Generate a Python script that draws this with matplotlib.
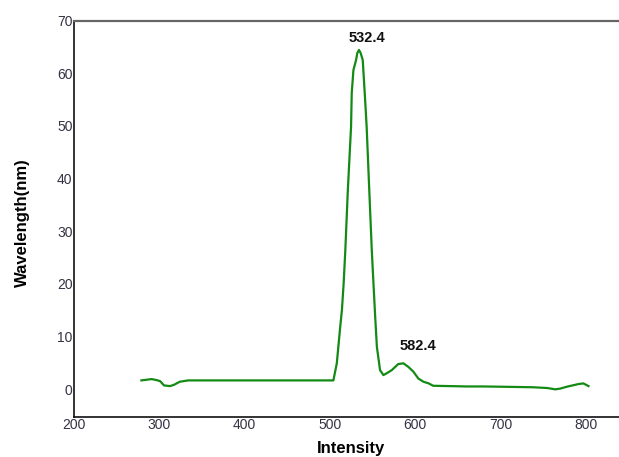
import numpy as np
import matplotlib
matplotlib.use("Agg")
import matplotlib.pyplot as plt

plt.rcParams['font.family'] = ['Liberation Sans', 'DejaVu Sans']

# spectrum
x_vals = [279, 291, 297, 301, 305.5, 312.5, 317, 324, 334, 400, 480, 504,
          508, 512, 514, 516, 518, 521, 524.7, 525.5, 527.5, 530.6, 532, 534,
          536, 538.4, 541, 543, 546, 549, 551, 553, 555, 558.7, 562.6, 566.5,
          572.4, 580, 586, 592, 597.8, 603.6, 609.5, 615.4, 621, 640, 660,
          680, 700, 738, 755, 764, 770, 777.6, 791, 797, 803]
y_vals = [1.65, 1.9, 1.7, 1.5, 0.7, 0.57, 0.8, 1.4, 1.65, 1.65, 1.65, 1.65,
          4.9, 11.8, 15, 20, 26.4, 38, 49.8, 56.2, 60.6, 62.5, 63.8, 64.4,
          63.8, 62.5, 55.5, 49.8, 38, 26.4, 20, 13.7, 8, 3.6, 2.66, 3,
          3.6, 4.75, 4.9, 4.2, 3.3, 2.0, 1.4, 1.1, 0.63, 0.57, 0.5,
          0.5, 0.45, 0.35, 0.2, -0.05, 0.1, 0.45, 0.95, 1.08, 0.57]

peak_labels = ["532.4", "582.4"]
peak_text_x = [543, 602.7]
peak_text_y = [66.7, 8.2]

x_ticks = [200, 300, 400, 500, 600, 700, 800]
y_ticks = [0, 10, 20, 30, 40, 50, 60, 70]


def main():
    fig = plt.figure(figsize=(6.19, 4.57), dpi=100)
    ax = fig.add_axes([74 / 619, 1 - 417 / 457, 554.6 / 619, (417 - 20.5) / 457])

    ax.plot(x_vals, y_vals, color="#138a13", lw=1.6)

    for lab, tx, ty in zip(peak_labels, peak_text_x, peak_text_y):
        ax.text(tx, ty, lab, ha="center", va="center", fontsize=10.5,
                fontweight="bold", color="#111111")

    ax.set_xlim(200, 850)
    ax.set_ylim(-5.3, 70)
    ax.set_xticks(x_ticks)
    ax.set_yticks(y_ticks)
    ax.tick_params(length=0, labelsize=10, labelcolor="#333344")
    ax.tick_params(axis="x", pad=1)
    ax.tick_params(axis="y", pad=1)

    ax.spines["right"].set_visible(False)
    ax.spines["top"].set_color("#666666")
    ax.spines["top"].set_linewidth(1.6)
    ax.spines["left"].set_color("#333333")
    ax.spines["left"].set_linewidth(1.4)
    ax.spines["bottom"].set_color("#111111")
    ax.spines["bottom"].set_linewidth(1.2)

    ax.set_xlabel("Intensity", fontsize=12, fontweight="bold", va="center")
    ax.set_ylabel("Wavelength(nm)", fontsize=12, fontweight="bold", va="center")
    ax.xaxis.set_label_coords(0.5, -31 / 396.5)
    ax.yaxis.set_label_coords(-52 / 554.6, 0.49)

    fig.savefig("out.png", dpi=100)


if __name__ == "__main__":
    main()
